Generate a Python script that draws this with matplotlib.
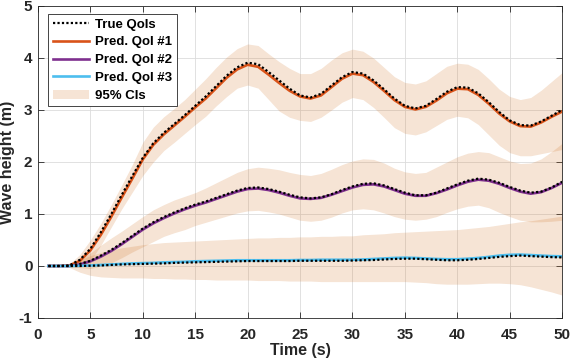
#!/usr/bin/env python

""" wave height QoIs: true vs predicted, with 95% CIs """

import numpy as np
import matplotlib
matplotlib.use("Agg")
import matplotlib.pyplot as plt

time = np.arange(1, 51)

# predicted QoI #1 and truth
pred1 = [0.0, 0.0, 0.01, 0.1, 0.3, 0.6, 0.95, 1.32, 1.68, 2.05,
         2.33, 2.53, 2.7, 2.87, 3.05, 3.22, 3.42, 3.62, 3.78, 3.87,
         3.83, 3.68, 3.52, 3.37, 3.26, 3.22, 3.28, 3.44, 3.6, 3.7,
         3.67, 3.54, 3.37, 3.19, 3.06, 3.01, 3.06, 3.18, 3.32, 3.41,
         3.4, 3.29, 3.12, 2.93, 2.78, 2.69, 2.68, 2.76, 2.87, 2.97]
true1 = [0.0, 0.0, 0.01, 0.12, 0.33, 0.65, 1.0, 1.37, 1.73, 2.08,
         2.36, 2.56, 2.73, 2.9, 3.08, 3.26, 3.46, 3.66, 3.82, 3.91,
         3.88, 3.73, 3.57, 3.41, 3.28, 3.24, 3.31, 3.47, 3.63, 3.73,
         3.7, 3.57, 3.4, 3.22, 3.08, 3.03, 3.08, 3.21, 3.35, 3.44,
         3.43, 3.32, 3.15, 2.96, 2.8, 2.71, 2.7, 2.78, 2.89, 3.0]
lo1 = [0.0, 0.0, -0.02, -0.02, 0.1, 0.4, 0.75, 1.1, 1.42, 1.74,
       2.0, 2.22, 2.38, 2.55, 2.72, 2.88, 3.08, 3.26, 3.42, 3.48,
       3.42, 3.2, 2.98, 2.86, 2.8, 2.78, 2.86, 3.0, 3.15, 3.24,
       3.2, 3.05, 2.86, 2.66, 2.55, 2.52, 2.58, 2.7, 2.82, 2.88,
       2.85, 2.72, 2.52, 2.32, 2.18, 2.12, 2.12, 2.16, 2.2, 2.24]
hi1 = [0.0, 0.0, 0.04, 0.22, 0.5, 0.82, 1.18, 1.56, 1.95, 2.38,
       2.67, 2.87, 3.03, 3.2, 3.4, 3.6, 3.82, 4.02, 4.18, 4.27,
       4.24, 4.08, 3.93, 3.8, 3.7, 3.7, 3.8, 3.96, 4.1, 4.17,
       4.13, 4.0, 3.82, 3.64, 3.53, 3.5, 3.56, 3.7, 3.84, 3.9,
       3.88, 3.78, 3.6, 3.4, 3.26, 3.2, 3.24, 3.38, 3.55, 3.72]

# predicted QoI #2 and truth
pred2 = [0.0, 0.0, 0.0, 0.03, 0.09, 0.18, 0.29, 0.42, 0.56, 0.7,
         0.82, 0.92, 1.01, 1.09, 1.16, 1.22, 1.29, 1.36, 1.43, 1.48,
         1.49, 1.46, 1.41, 1.35, 1.3, 1.29, 1.31, 1.37, 1.44, 1.51,
         1.56, 1.57, 1.53, 1.46, 1.39, 1.35, 1.35, 1.4, 1.47, 1.55,
         1.62, 1.66, 1.64, 1.58, 1.5, 1.43, 1.39, 1.42, 1.5, 1.6]
true2 = [0.0, 0.0, 0.0, 0.04, 0.1, 0.2, 0.31, 0.44, 0.58, 0.72,
         0.84, 0.94, 1.03, 1.11, 1.18, 1.24, 1.31, 1.38, 1.45, 1.5,
         1.51, 1.48, 1.43, 1.37, 1.32, 1.3, 1.32, 1.38, 1.46, 1.53,
         1.58, 1.59, 1.55, 1.48, 1.41, 1.36, 1.36, 1.41, 1.49, 1.57,
         1.64, 1.68, 1.66, 1.6, 1.52, 1.45, 1.41, 1.43, 1.51, 1.62]
lo2 = [0.0, 0.0, -0.02, -0.03, -0.05, 0.0, 0.06, 0.16, 0.27, 0.37,
       0.47, 0.57, 0.64, 0.7, 0.78, 0.84, 0.9, 0.96, 1.02, 1.06,
       1.07, 1.04, 1.0, 0.94, 0.88, 0.86, 0.88, 0.94, 1.02, 1.08,
       1.1, 1.08, 1.02, 0.95, 0.9, 0.88, 0.9, 0.95, 1.03, 1.1,
       1.15, 1.17, 1.12, 1.03, 0.95, 0.88, 0.85, 0.85, 0.86, 0.88]
hi2 = [0.0, 0.0, 0.03, 0.12, 0.25, 0.4, 0.54, 0.67, 0.81, 0.95,
       1.08, 1.18, 1.27, 1.34, 1.41, 1.5, 1.6, 1.7, 1.8, 1.87,
       1.9, 1.88, 1.85, 1.8, 1.76, 1.74, 1.78, 1.86, 1.95, 2.02,
       2.06, 2.05, 1.98, 1.88, 1.81, 1.78, 1.8, 1.9, 2.0, 2.1,
       2.17, 2.2, 2.18, 2.1, 2.02, 1.97, 1.98, 2.06, 2.2, 2.36]

# predicted QoI #3 and truth
pred3 = [0.0, 0.0, 0.0, 0.005, 0.01, 0.02, 0.03, 0.04, 0.05, 0.055,
         0.06, 0.07, 0.075, 0.08, 0.09, 0.095, 0.1, 0.105, 0.11, 0.11,
         0.11, 0.11, 0.11, 0.11, 0.115, 0.115, 0.12, 0.12, 0.12, 0.12,
         0.125, 0.135, 0.145, 0.155, 0.16, 0.155, 0.145, 0.135, 0.13, 0.13,
         0.14, 0.155, 0.175, 0.2, 0.215, 0.22, 0.21, 0.2, 0.19, 0.185]
true3 = [0.0, 0.0, 0.0, 0.0, 0.005, 0.01, 0.02, 0.03, 0.035, 0.04,
         0.045, 0.05, 0.06, 0.065, 0.07, 0.075, 0.08, 0.085, 0.09, 0.095,
         0.095, 0.095, 0.095, 0.095, 0.1, 0.1, 0.1, 0.1, 0.1, 0.105,
         0.11, 0.115, 0.125, 0.135, 0.14, 0.14, 0.13, 0.12, 0.11, 0.11,
         0.12, 0.135, 0.155, 0.175, 0.19, 0.2, 0.19, 0.18, 0.17, 0.165]
lo3 = [0.0, 0.0, -0.03, -0.12, -0.18, -0.21, -0.22, -0.23, -0.23, -0.23,
       -0.24, -0.24, -0.25, -0.25, -0.26, -0.26, -0.27, -0.27, -0.27, -0.27,
       -0.28, -0.28, -0.28, -0.29, -0.29, -0.29, -0.3, -0.3, -0.3, -0.3,
       -0.3, -0.3, -0.3, -0.3, -0.3, -0.31, -0.32, -0.34, -0.35, -0.35,
       -0.35, -0.34, -0.33, -0.33, -0.34, -0.36, -0.4, -0.45, -0.5, -0.56]
hi3 = [0.0, 0.0, 0.03, 0.12, 0.2, 0.26, 0.31, 0.35, 0.38, 0.41,
       0.43, 0.45, 0.46, 0.47, 0.48, 0.49, 0.5, 0.51, 0.52, 0.53,
       0.54, 0.54, 0.55, 0.55, 0.56, 0.56, 0.57, 0.57, 0.58, 0.58,
       0.6, 0.61, 0.62, 0.64, 0.65, 0.66, 0.67, 0.68, 0.69, 0.7,
       0.72, 0.74, 0.76, 0.79, 0.82, 0.85, 0.87, 0.9, 0.93, 0.96]

xticks = np.arange(0, 51, 5)
yticks = np.arange(-1, 6, 1)

ORANGE = "#D95319"
PURPLE = "#7E2F8E"
BLUE = "#4DBEEE"
BAND = "#D2782D"
DARK = "#262626"


def main():
    plt.rcParams['font.family'] = ['Liberation Sans', 'DejaVu Sans']
    plt.rcParams['font.weight'] = "bold"
    plt.rcParams['axes.unicode_minus'] = False

    fig = plt.figure(figsize=(5.71, 3.63), dpi=100)
    ax = fig.add_axes([0.0665, 0.124, 0.918, 0.8595])

    for lo, hi in [(lo1, hi1), (lo2, hi2), (lo3, hi3)]:
        ci = ax.fill_between(time, lo, hi, color=BAND, alpha=0.2,
                             linewidth=0, zorder=1)

    l1, = ax.plot(time, pred1, "-", color=ORANGE, lw=1.9, zorder=3)
    l2, = ax.plot(time, pred2, "-", color=PURPLE, lw=1.9, zorder=3)
    l3, = ax.plot(time, pred3, "-", color=BLUE, lw=1.9, zorder=3)
    dot = (0, (1, 1))
    lt, = ax.plot(time, true1, color="k", ls=dot, lw=1.6, zorder=4)
    ax.plot(time, true2, color="k", ls=dot, lw=1.6, zorder=4)
    ax.plot(time, true3, color="k", ls=dot, lw=1.6, zorder=4)

    ax.set_xlim(0, 50)
    ax.set_ylim(-1, 5)
    ax.set_xticks(xticks)
    ax.set_yticks(yticks)
    ax.tick_params(direction="in", top=True, right=True, length=4,
                   width=0.6, colors=DARK, labelsize=11)
    ax.tick_params(axis="x", pad=7)
    ax.tick_params(axis="y", pad=4)
    for s in ax.spines.values():
        s.set_color(DARK)
        s.set_linewidth(0.6)
    ax.grid(True, color="#DCDCDC", lw=0.6, zorder=0)
    ax.set_axisbelow(True)

    ax.set_xlabel("Time (s)", fontsize=11.5, fontweight="bold", color=DARK,
                  labelpad=1)
    ax.set_ylabel("Wave height (m)", fontsize=11.5, fontweight="bold",
                  color=DARK, labelpad=3)

    leg = ax.legend([lt, l1, l2, l3, ci],
                    ["True QoIs", "Pred. QoI #1", "Pred. QoI #2",
                     "Pred. QoI #3", "95% CIs"],
                    loc="upper left", bbox_to_anchor=(0.019, 0.975),
                    borderaxespad=0, fontsize=9.5, handlelength=2.8,
                    handletextpad=0.4, labelspacing=0.42, borderpad=0.35,
                    fancybox=False, framealpha=1, edgecolor=DARK)
    leg.get_frame().set_linewidth(0.6)
    for t in leg.get_texts():
        t.set_fontweight("bold")

    fig.savefig("out.png", dpi=100)


if __name__ == "__main__":

    main()
